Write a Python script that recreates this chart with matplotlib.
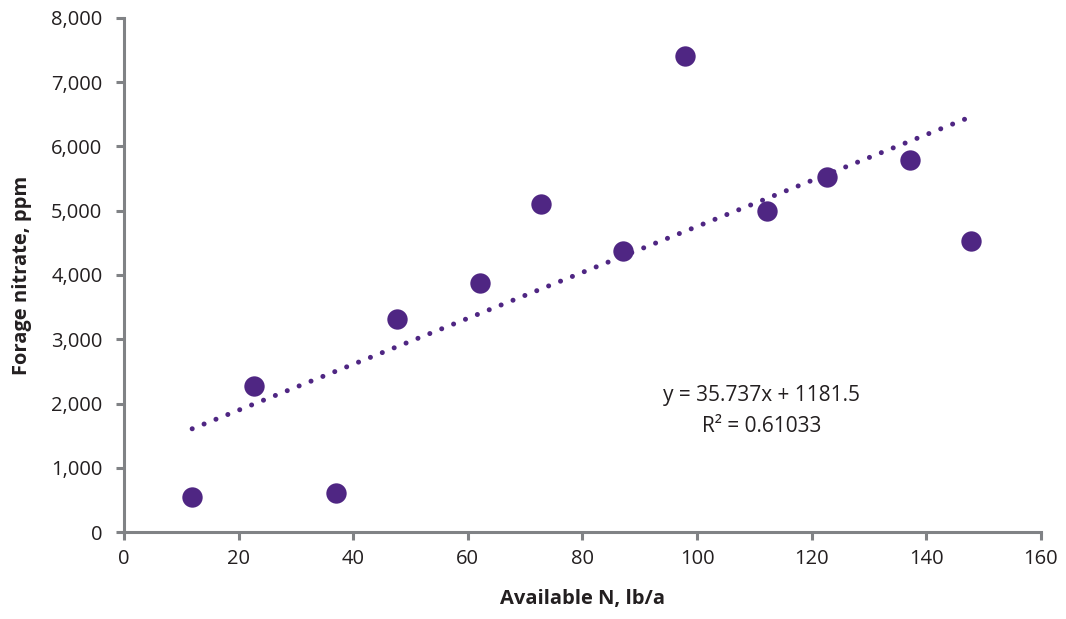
import matplotlib
matplotlib.use("Agg")
import matplotlib.pyplot as plt
import numpy as np

available_n = [11.9, 22.7, 37.0, 47.6, 62.1, 72.8, 87.1, 97.9, 112.2, 122.7, 137.2, 147.8]
forage_nitrate = [545, 2270, 607, 3315, 3875, 5105, 4373, 7408, 4996, 5525, 5790, 4529]
slope = 35.737
intercept = 1181.5
r2 = 0.61033
x_ticks = [0, 20, 40, 60, 80, 100, 120, 140, 160]
y_ticks = [0, 1000, 2000, 3000, 4000, 5000, 6000, 7000, 8000]

purple = "#4F2683"
gray = "#808285"
txt = "#231F20"

plt.rcParams['font.family'] = ['Open Sans', 'DejaVu Sans']

fig = plt.figure(figsize=(10.66, 6.19), dpi=100)
ax = fig.add_axes([0.1163, 0.1405, 0.8602, 0.8305])

tx = np.array([min(available_n), 147.3])
ax.plot(tx, slope * tx + intercept, color=purple, linewidth=3.6,
        linestyle=(0, (0.01, 2.55)), dash_capstyle='round', zorder=2)
ax.scatter(available_n, forage_nitrate, s=215, color=purple, zorder=3, linewidths=0)

ax.set_xlim(0, 160)
ax.set_ylim(0, 8000)
ax.set_xticks(x_ticks)
ax.set_yticks(y_ticks)
ax.set_yticklabels([f"{v:,}" for v in y_ticks])
ax.set_xticklabels([str(v) for v in x_ticks])

for s in ['top', 'right']:
    ax.spines[s].set_visible(False)
for s in ['left', 'bottom']:
    ax.spines[s].set_color(gray)
    ax.spines[s].set_linewidth(2.2)
ax.tick_params(axis='both', colors=gray, width=2.2, length=5.5, labelsize=14.5,
               labelcolor=txt, direction='out')
ax.tick_params(axis='y', pad=10)
ax.tick_params(axis='x', pad=7)

ax.set_xlabel("Available N, lb/a", fontsize=14.5, fontweight='bold', color=txt, labelpad=14)
ax.set_ylabel("Forage nitrate, ppm", fontsize=14.5, fontweight='bold', color=txt, labelpad=14)

ax.text(0.695, 0.255, f"y = {slope}x + {intercept}", transform=ax.transAxes, ha='center',
        fontsize=15, color=txt)
ax.text(0.695, 0.195, f"R\u00b2 = {r2}", transform=ax.transAxes, ha='center',
        fontsize=15, color=txt)

fig.savefig("out.png", dpi=100)
